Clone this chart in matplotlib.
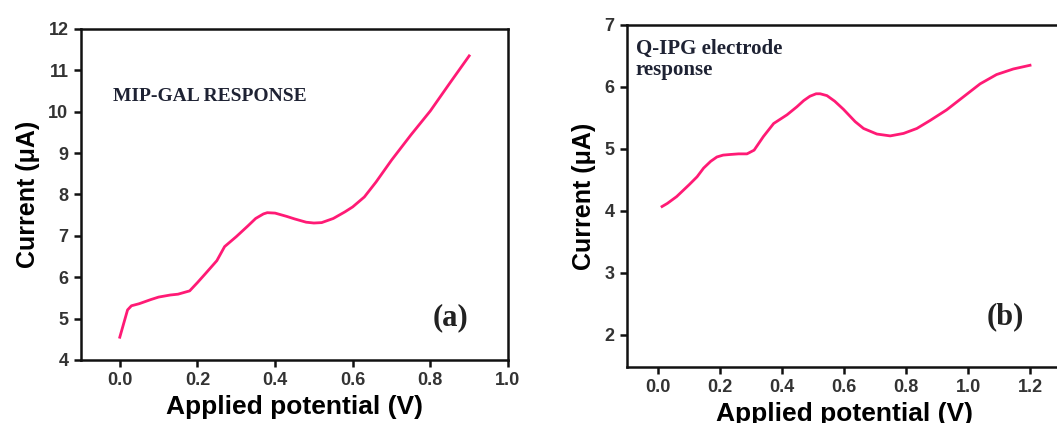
import matplotlib

matplotlib.use("Agg")
import matplotlib.pyplot as plt

# ---------------------------------------------------------------------------
# Data
# ---------------------------------------------------------------------------
# (a) MIP-GAL response
POT_A = [0.00, 0.02, 0.03, 0.05, 0.08, 0.10, 0.13, 0.15, 0.18, 0.20, 0.22,
         0.25, 0.27, 0.30, 0.33, 0.35, 0.37, 0.38, 0.40, 0.43, 0.45, 0.48,
         0.50, 0.52, 0.55, 0.58, 0.60, 0.63, 0.66, 0.70, 0.75, 0.80, 0.85,
         0.90]
CUR_A = [4.55, 5.21, 5.31, 5.36, 5.46, 5.52, 5.57, 5.59, 5.67, 5.87, 6.08,
         6.40, 6.74, 6.98, 7.24, 7.42, 7.53, 7.56, 7.55, 7.47, 7.41, 7.33,
         7.31, 7.32, 7.42, 7.58, 7.70, 7.94, 8.30, 8.83, 9.44, 10.02, 10.69,
         11.35]

# (b) Q-IPG electrode response
POT_B = [0.013, 0.03, 0.06, 0.10, 0.126, 0.147, 0.17, 0.19, 0.21, 0.233,
         0.26, 0.287, 0.31, 0.34, 0.373, 0.416, 0.448, 0.47, 0.49, 0.51,
         0.523, 0.545, 0.57, 0.598, 0.636, 0.663, 0.706, 0.749, 0.792, 0.835,
         0.878, 0.931, 0.985, 1.039, 1.092, 1.146, 1.20]
CUR_B = [4.07, 4.12, 4.23, 4.42, 4.55, 4.69, 4.80, 4.87, 4.90, 4.91,
         4.92, 4.92, 4.98, 5.20, 5.41, 5.55, 5.68, 5.78, 5.85, 5.89,
         5.89, 5.86, 5.77, 5.64, 5.44, 5.33, 5.24, 5.21, 5.25, 5.33,
         5.46, 5.63, 5.84, 6.05, 6.20, 6.29, 6.35]

X_TICKS_A = [0.0, 0.2, 0.4, 0.6, 0.8, 1.0]
Y_TICKS_A = [4, 5, 6, 7, 8, 9, 10, 11, 12]
X_TICKS_B = [0.0, 0.2, 0.4, 0.6, 0.8, 1.0, 1.2]
Y_TICKS_B = [2, 3, 4, 5, 6, 7]

LINE_COLOR = "#ff1a75"
NOTE_COLOR = "#1e2233"
SANS = "Liberation Sans"
SERIF = "Liberation Serif"


def style_axes(ax, xticks, yticks):
    for spine in ax.spines.values():
        spine.set_linewidth(1.8)
        spine.set_color("#111111")
    ax.set_xticks(xticks)
    ax.set_yticks(yticks)
    ax.set_xticklabels([f"{t:.1f}" for t in xticks])
    ax.set_yticklabels([str(t) for t in yticks])
    ax.tick_params(direction="out", length=5, width=1.8, labelsize=13,
                   pad=4, colors="#111111")
    for lab in ax.get_xticklabels() + ax.get_yticklabels():
        lab.set_fontfamily(SANS)
        lab.set_fontweight("bold")
        lab.set_color("#333333")
    ax.set_xlabel("Applied potential (V)", fontsize=19, fontweight="bold",
                  family=SANS, labelpad=4)
    ax.set_ylabel("Current (\u03bcA)", fontsize=18, fontweight="bold",
                  family=SANS, labelpad=6)


fig = plt.figure(figsize=(10.57, 4.23), dpi=100)
fig.patch.set_facecolor("white")

# ---- panel (a) ----
ax_a = fig.add_axes([0.0766, 0.149, 0.404, 0.7825])
ax_a.plot(POT_A, CUR_A, color=LINE_COLOR, linewidth=2.0)
ax_a.set_xlim(-0.1, 1.0)
ax_a.set_ylim(4, 12)
style_axes(ax_a, X_TICKS_A, Y_TICKS_A)
ax_a.text(0.075, 0.795, "MIP-GAL RESPONSE", transform=ax_a.transAxes,
          fontsize=14, fontweight="bold", family=SERIF, color=NOTE_COLOR,
          ha="left", va="center")
ax_a.text(0.824, 0.127, "(a)", transform=ax_a.transAxes,
          fontsize=22, fontweight="bold", family=SERIF, color="#222222",
          ha="left", va="center")

# ---- panel (b) ----  (right spine falls just past the figure edge)
ax_b = fig.add_axes([0.5932, 0.1324, 0.4106, 0.8085])
ax_b.plot(POT_B, CUR_B, color=LINE_COLOR, linewidth=2.0)
ax_b.set_xlim(-0.1, 1.3)
ax_b.set_ylim(1.48, 7)
style_axes(ax_b, X_TICKS_B, Y_TICKS_B)
ax_b.text(0.02, 0.958, "Q-IPG electrode\nresponse", transform=ax_b.transAxes,
          fontsize=15, fontweight="bold", family=SERIF, color=NOTE_COLOR,
          ha="left", va="top", linespacing=1.05)
ax_b.text(0.829, 0.146, "(b)", transform=ax_b.transAxes,
          fontsize=22, fontweight="bold", family=SERIF, color="#222222",
          ha="left", va="center")

fig.savefig("out.png", dpi=100, facecolor="white")
plt.close(fig)
